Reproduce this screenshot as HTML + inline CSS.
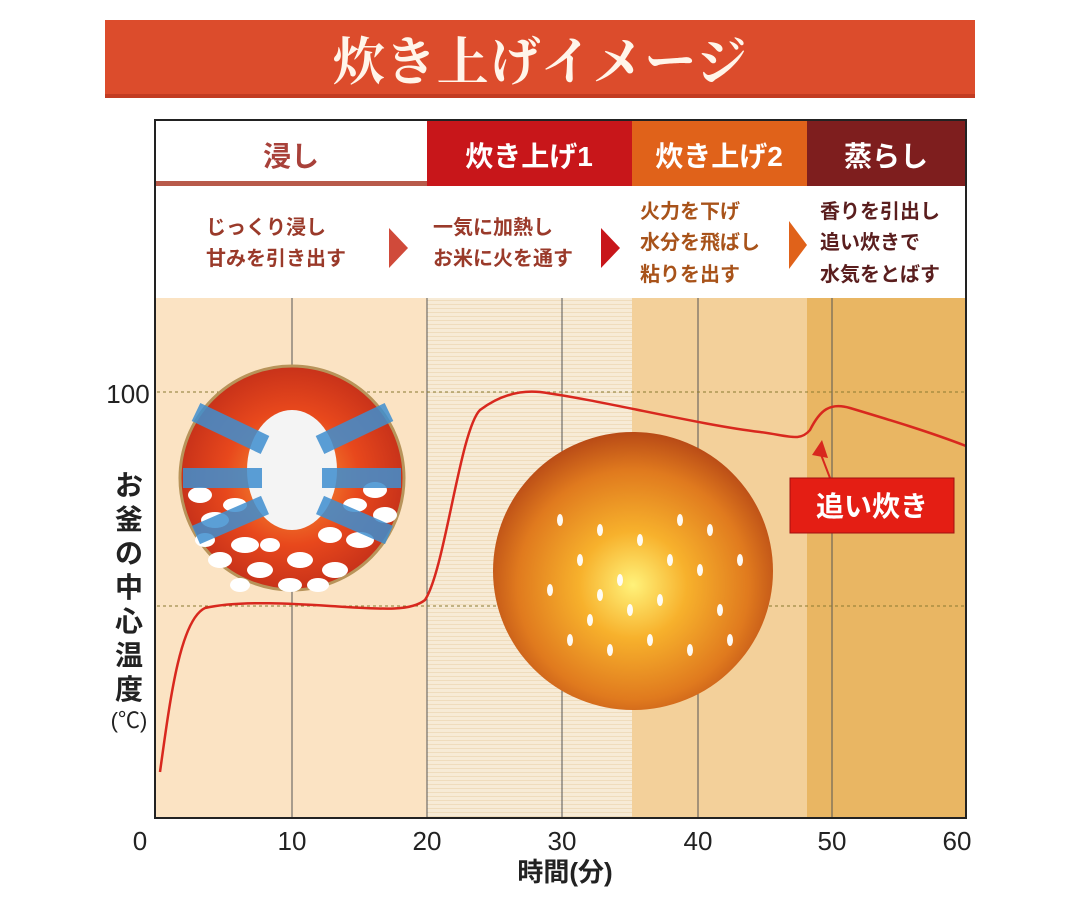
<!DOCTYPE html>
<html><head><meta charset="utf-8"><style>
body{margin:0;background:#fff;}
svg{display:block;}
text{font-family:"Liberation Sans","Noto Sans CJK JP",sans-serif;}
</style></head><body>
<svg width="1079" height="909" viewBox="0 0 1079 909" xmlns="http://www.w3.org/2000/svg">
<defs>
<radialGradient id="c1" cx="50%" cy="50%" r="50%"><stop offset="0" stop-color="#f6a23a"/><stop offset="0.6" stop-color="#e8481c"/><stop offset="1" stop-color="#c8321a"/></radialGradient>
<radialGradient id="c2" cx="50%" cy="55%" r="55%"><stop offset="0" stop-color="#fff27a"/><stop offset="0.35" stop-color="#f7b12c"/><stop offset="0.75" stop-color="#e07a1e"/><stop offset="1" stop-color="#b84a16"/></radialGradient>
<pattern id="stripe" width="4" height="4" patternUnits="userSpaceOnUse"><rect width="4" height="4" fill="#f7ebd6"/><rect width="4" height="1" fill="#efdcbc"/></pattern>
</defs>
<!-- banner -->
<rect x="105" y="20" width="870" height="78" fill="#dc4c2c"/>
<rect x="105" y="94" width="870" height="4" fill="#c23c22"/>
<text x="540" y="80" text-anchor="middle" font-size="52" fill="#fff5ea" style="font-family:'Liberation Serif','Noto Serif CJK SC',serif" font-weight="bold">炊き上げイメージ</text>
<!-- plot backgrounds -->
<rect x="155" y="298" width="272" height="520" fill="#fbe3c3"/>
<rect x="427" y="298" width="205" height="520" fill="url(#stripe)"/>
<rect x="632" y="298" width="175" height="520" fill="#f3d09a"/>
<rect x="807" y="298" width="159" height="520" fill="#e9b663"/>
<!-- header row -->
<rect x="155" y="120" width="272" height="66" fill="#fff"/>
<rect x="155" y="181" width="272" height="6" fill="#b85a4a"/>
<rect x="427" y="120" width="205" height="66" fill="#c8161a"/>
<rect x="632" y="120" width="175" height="66" fill="#e0621a"/>
<rect x="807" y="120" width="159" height="66" fill="#7e1e1e"/>
<rect x="155" y="186" width="811" height="112" fill="#fff"/>
<g font-size="28" font-weight="bold" text-anchor="middle">
<text x="291" y="166" fill="#a8413a">浸し</text>
<text x="529" y="166" fill="#fff">炊き上げ1</text>
<text x="719" y="166" fill="#fff">炊き上げ2</text>
<text x="886" y="166" fill="#fff">蒸らし</text>
</g>
<g font-size="20" fill="#9a3a2a" font-weight="bold">
<text x="206" y="234">じっくり浸し</text><text x="206" y="265">甘みを引き出す</text>
<text x="433" y="234">一気に加熱し</text><text x="433" y="265">お米に火を通す</text>
<text x="640" y="218" fill="#a8531a">火力を下げ</text><text x="640" y="249" fill="#a8531a">水分を飛ばし</text><text x="640" y="281" fill="#a8531a">粘りを出す</text>
<text x="820" y="218" fill="#5a1e1e">香りを引出し</text><text x="820" y="249" fill="#5a1e1e">追い炊きで</text><text x="820" y="281" fill="#5a1e1e">水気をとばす</text>
</g>
<polygon points="389,228 408,248 389,268" fill="#d04a3a"/>
<polygon points="601,228 620,248 601,268" fill="#c8161a"/>
<polygon points="789,221 807,245 789,269" fill="#e0621a"/>
<!-- grid -->
<g stroke="#555" stroke-width="1">
<line x1="292" y1="298" x2="292" y2="818"/><line x1="427" y1="298" x2="427" y2="818"/>
<line x1="562" y1="298" x2="562" y2="818"/><line x1="698" y1="298" x2="698" y2="818"/>
<line x1="832" y1="298" x2="832" y2="818"/>
</g>
<g stroke="#8a7a30" stroke-dasharray="3,3" stroke-width="1">
<line x1="157" y1="392" x2="966" y2="392"/><line x1="157" y1="606" x2="966" y2="606"/>
</g>
<!-- circle 1 -->
<circle cx="292" cy="478" r="112" fill="url(#c1)" stroke="#b8945a" stroke-width="3"/>
<g fill="#fff">
<ellipse cx="215" cy="520" rx="14" ry="8"/><ellipse cx="245" cy="545" rx="14" ry="8"/><ellipse cx="220" cy="560" rx="12" ry="8"/>
<ellipse cx="260" cy="570" rx="13" ry="8"/><ellipse cx="300" cy="560" rx="13" ry="8"/><ellipse cx="335" cy="570" rx="13" ry="8"/>
<ellipse cx="360" cy="540" rx="14" ry="8"/><ellipse cx="385" cy="515" rx="12" ry="8"/><ellipse cx="330" cy="535" rx="12" ry="8"/>
<ellipse cx="290" cy="585" rx="12" ry="7"/><ellipse cx="200" cy="495" rx="12" ry="8"/><ellipse cx="375" cy="490" rx="12" ry="8"/>
<ellipse cx="205" cy="540" rx="10" ry="7"/><ellipse cx="235" cy="505" rx="12" ry="7"/><ellipse cx="355" cy="505" rx="12" ry="7"/>
<ellipse cx="270" cy="545" rx="10" ry="7"/><ellipse cx="318" cy="585" rx="11" ry="7"/><ellipse cx="240" cy="585" rx="10" ry="7"/>
<ellipse cx="292" cy="470" rx="45" ry="60" fill="#f4f4f4"/>
</g>
<g stroke="#3f8fd0" stroke-width="20" opacity="0.85" stroke-linecap="butt">
<line x1="196" y1="412" x2="265" y2="445"/><line x1="389" y1="412" x2="320" y2="445"/>
<line x1="183" y1="478" x2="262" y2="478"/><line x1="401" y1="478" x2="322" y2="478"/>
<line x1="196" y1="535" x2="265" y2="505"/><line x1="389" y1="535" x2="320" y2="505"/>
</g>
<!-- circle 2 -->
<ellipse cx="633" cy="571" rx="140" ry="139" fill="url(#c2)"/>
<g fill="#fff" opacity="0.95">
<ellipse cx="560" cy="520" rx="3" ry="6"/><ellipse cx="580" cy="560" rx="3" ry="6"/><ellipse cx="600" cy="530" rx="3" ry="6"/>
<ellipse cx="620" cy="580" rx="3" ry="6"/><ellipse cx="640" cy="540" rx="3" ry="6"/><ellipse cx="660" cy="600" rx="3" ry="6"/>
<ellipse cx="680" cy="520" rx="3" ry="6"/><ellipse cx="700" cy="570" rx="3" ry="6"/><ellipse cx="720" cy="610" rx="3" ry="6"/>
<ellipse cx="590" cy="620" rx="3" ry="6"/><ellipse cx="610" cy="650" rx="3" ry="6"/><ellipse cx="650" cy="640" rx="3" ry="6"/>
<ellipse cx="690" cy="650" rx="3" ry="6"/><ellipse cx="740" cy="560" rx="3" ry="6"/><ellipse cx="550" cy="590" rx="3" ry="6"/>
<ellipse cx="570" cy="640" rx="3" ry="6"/><ellipse cx="630" cy="610" rx="3" ry="6"/><ellipse cx="670" cy="560" rx="3" ry="6"/>
<ellipse cx="710" cy="530" rx="3" ry="6"/><ellipse cx="600" cy="595" rx="3" ry="6"/><ellipse cx="730" cy="640" rx="3" ry="6"/>
</g>
<!-- curve -->
<path d="M160,772 C170,700 180,620 205,608 C240,600 300,604 330,606 C380,609 410,612 425,600 C445,570 460,430 480,410 C500,395 520,390 540,392 C600,400 700,425 760,432 C790,436 800,442 810,430 C820,410 830,402 850,408 C890,420 930,432 966,446" fill="none" stroke="#d8281e" stroke-width="2.5"/>
<!-- callout -->
<line x1="830" y1="478" x2="820" y2="452" stroke="#d8281e" stroke-width="2"/>
<polygon points="812,455 822,440 828,458" fill="#d8281e"/>
<rect x="790" y="478" width="164" height="55" fill="#e41e14" stroke="#a01010"/>
<text x="872" y="516" text-anchor="middle" font-size="28" font-weight="bold" fill="#fff">追い炊き</text>
<!-- axes / border -->
<rect x="155" y="120" width="811" height="698" fill="none" stroke="#222" stroke-width="2"/>
<g font-size="26" fill="#222" text-anchor="middle">
<text x="140" y="850">0</text><text x="292" y="850">10</text><text x="427" y="850">20</text>
<text x="562" y="850">30</text><text x="698" y="850">40</text><text x="832" y="850">50</text><text x="957" y="850">60</text>
<text x="128" y="403">100</text>
</g>
<text x="565" y="881" text-anchor="middle" font-size="26" font-weight="bold" fill="#222">時間(分)</text>
<g font-size="28" font-weight="bold" fill="#222" text-anchor="middle">
<text x="129" y="495">お</text><text x="129" y="529">釜</text><text x="129" y="563">の</text><text x="129" y="597">中</text>
<text x="129" y="631">心</text><text x="129" y="665">温</text><text x="129" y="699">度</text>
<text x="129" y="728" font-size="22" font-weight="normal">(℃)</text>
</g>
</svg>
</body></html>
